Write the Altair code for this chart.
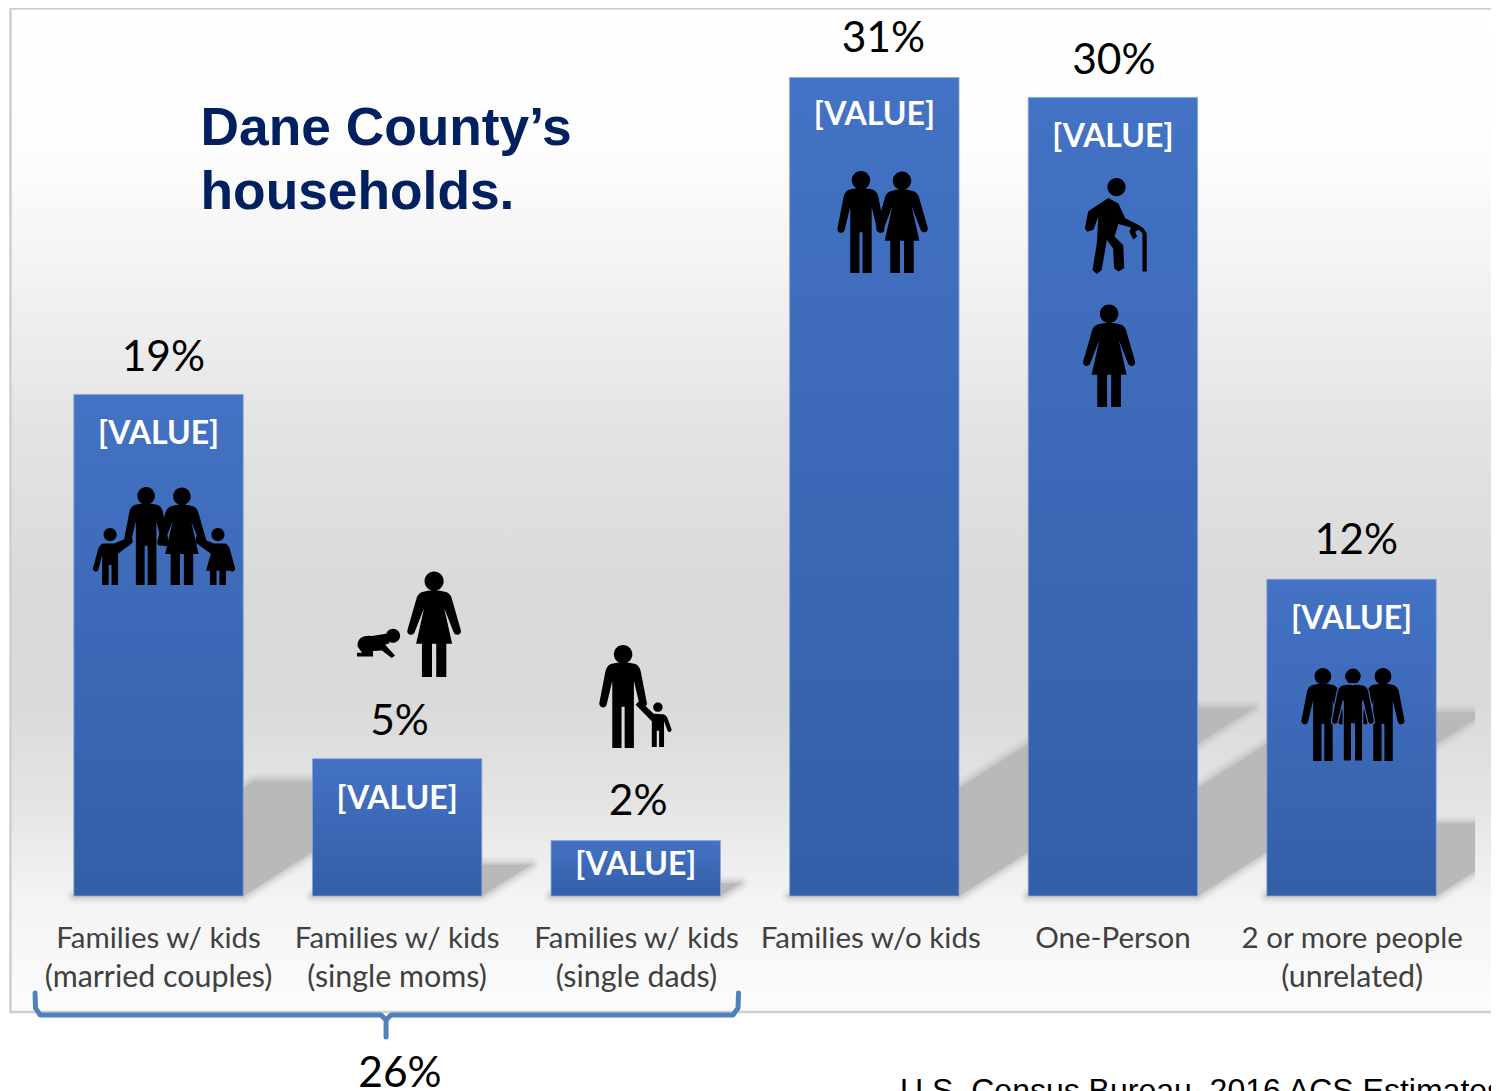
import altair as alt
import pandas as pd

# ---------- data ----------
slots = [0, 1, 2, 3, 4, 5]
shares = [19.0, 5.2, 2.1, 31.0, 30.25, 12.0]
share_labels = ["19%", "5%", "2%", "31%", "30%", "12%"]
share_label_slots = [0.02, 1.01, 2.01, 3.038, 4.004, 5.02]
share_label_pct = [19.0, 5.24, 2.21, 31.08, 30.25, 12.08]
value_labels = ["[VALUE]"] * 6
value_label_pct = [19.0, 5.2, 2.69, 31.11, 30.25, 12.0]

cat_line1 = ["Families w/ kids", "Families w/ kids", "Families w/ kids",
             "Families w/o kids", "One-Person", "2 or more people"]
cat_line2 = ["(married couples)", "(single moms)", "(single dads)", "", "", "(unrelated)"]
cat_slots = [0, 1, 2.003, 2.985, 4.0, 5.003]

title_lines = ["Dane County’s", "households."]
title_pct = [28.45, 26.02]
title_slot = 0.176

bracket_slot = [-.5176, -.5155, -.4966, .9325, .9535, .9535, .9535, .9744, 2.4078, 2.4287, 2.4308]
bracket_pct = [-3.674, -4.242, -4.508, -4.508, -4.697, -5.341, -4.697, -4.508, -4.508, -4.242, -3.674]

icon_glyph = ["man", "woman", "boy", "girl", "woman", "baby", "man", "kid",
              "man", "woman", "elder", "woman", "man", "man", "man"]
icon_slot = [-.052, .098, -.203, .249, 1.155, .922, 1.947, 2.093,
             2.944, 3.116, 4.013, 3.984, 4.880, 5.132, 5.006]
icon_pct = [13.64, 13.64, 12.86, 12.86, 10.30, 9.53, 7.56, 6.53,
            25.53, 25.53, 25.38, 20.47, 6.875, 6.875, 6.875]
icon_group = ["family", "family", "child", "child", "mom", "infant", "dad", "toddler",
              "couple", "couple", "senior", "single", "trio", "trio", "trio_front"]

# ---------- styles ----------
ICON_PX = {"family": 98, "child": 57, "mom": 106, "infant": 44, "dad": 103, "toddler": 47,
           "couple": 102, "senior": 96, "single": 103, "trio": 93, "trio_front": 93}

GLYPHS = {
    "man": ("M-.24 -.63 Q0 -.70 .24 -.63 Q.31 -.6 .34 -.5 L.46 .12 A.07 .07 0 0 1 .32 .16 "
            "L.21 -.3 L.21 1 L.03 1 L.03 .2 L-.03 .2 L-.03 1 L-.21 1 L-.21 -.3 L-.32 .16 "
            "A.07 .07 0 0 1 -.46 .12 L-.34 -.5 Q-.31 -.6 -.24 -.63Z "
            "M-.18 -.82 A.18 .18 0 1 1 .18 -.82 A.18 .18 0 1 1 -.18 -.82Z"),
    "woman": ("M-.24 -.6 Q0 -.68 .24 -.6 Q.32 -.56 .34 -.46 L.5 .1 A.07 .07 0 0 1 .37 .16 "
              "L.19 -.3 L.34 .37 L.23 .37 L.23 1 L.04 1 L.04 .37 L-.04 .37 L-.04 1 L-.23 1 "
              "L-.23 .37 L-.34 .37 L-.19 -.3 L-.37 .16 A.07 .07 0 0 1 -.5 .1 L-.34 -.46 "
              "Q-.32 -.56 -.24 -.6Z M-.18 -.81 A.18 .18 0 1 1 .18 -.81 A.18 .18 0 1 1 -.18 -.81Z"),
    "boy": ("M-.25 -.46 L.15 -.46 L.76 -.72 L.8 -.5 L.28 -.1 L.28 1 L.05 1 L.05 .3 L-.05 .3 "
            "L-.05 1 L-.28 1 L-.28 -.05 L-.42 .48 A.1 .1 0 0 1 -.6 .4 L-.42 -.25 "
            "Q-.37 -.42 -.25 -.46Z M-.23 -.77 A.23 .23 0 1 1 .23 -.77 A.23 .23 0 1 1 -.23 -.77Z"),
    "girl": ("M.25 -.46 L-.15 -.46 L-.76 -.72 L-.8 -.5 L-.25 -.1 L-.42 .5 L-.28 .5 L-.28 1 "
             "L-.05 1 L-.05 .5 L.05 .5 L.05 1 L.28 1 L.28 .5 L.42 .5 L.32 -.02 L.42 .48 "
             "A.1 .1 0 0 0 .6 .4 L.42 -.25 Q.37 -.42 .25 -.46Z "
             "M-.23 -.77 A.23 .23 0 1 1 .23 -.77 A.23 .23 0 1 1 -.23 -.77Z"),
    "kid": ("M.22 -.4 Q.36 -.38 .42 -.2 L.58 .25 A.09 .09 0 0 1 .42 .32 L.26 -.1 L.26 1 L.05 1 "
            "L.05 .3 L-.05 .3 L-.05 1 L-.26 1 L-.26 -.1 L-.95 -.8 L-.78 -.98 L-.18 -.42Z "
            "M-.2 -.7 A.2 .2 0 1 1 .2 -.7 A.2 .2 0 1 1 -.2 -.7Z"),
    "baby": ("M-.8 -.3 Q-.6 -.42 -.3 -.38 L.4 -.5 L.5 -.05 L.3 .02 L.75 .5 L.6 .62 L.15 .28 "
             "L-.25 .3 L-.25 .55 L-.98 .55 L-.98 .38 L-.75 .38 L-.95 .1 Q-.98 -.15 -.8 -.3Z "
             "M.34 -.39 A.32 .32 0 1 1 .98 -.39 A.32 .32 0 1 1 .34 -.39Z"),
    "elder": ("M-.54 -.33 L-.16 -.58 L.05 -.47 L.19 -.16 L.47 -.02 L.57 .05 L.64 .15 L.64 .95 "
              "L.55 .95 L.55 .15 L.47 .08 L.40 .12 L.44 .22 L.36 .28 L.28 .12 L.31 .03 L.05 -.04 "
              "L-.03 .22 L.15 .40 L.17 .88 L.05 .95 L-.04 .88 L-.06 .47 L-.19 .29 L-.30 .92 "
              "L-.40 1 L-.49 .92 L-.40 .36 L-.37 -.19 L-.47 .08 L-.60 .12 L-.65 .05 L-.58 -.30Z "
              "M-.18 -.81 A.19 .19 0 1 1 .2 -.81 A.19 .19 0 1 1 -.18 -.81Z"),
}

BODY_FONT = "Lato"
HALF_BAR = 0.355
SHADOW_GREY = "#b9b9b9"
TIP_FRACTION = 0.23
SHEAR = 0.1734

xs = alt.Scale(domain=[-0.63097, 5.5846], nice=False, zero=False)
ys = alt.Scale(domain=[-7.386, 33.636], nice=False, zero=False)
X = lambda f: alt.X(f, type="quantitative", scale=xs, axis=None)
Y = lambda f: alt.Y(f, type="quantitative", scale=ys, axis=None)

# ---------- tables ----------
bars = pd.DataFrame({"slot": slots, "share": shares, "value_pct": value_label_pct,
                     "value_label": value_labels, "label": share_labels,
                     "label_slot": share_label_slots, "label_pct": share_label_pct, "base": [0] * 6})
bars["left"] = bars.slot - HALF_BAR
bars["right"] = bars.slot + HALF_BAR

rows = []
for s, v in zip(slots, shares):
    xl, xr, t = s - HALF_BAR, s + HALF_BAR, TIP_FRACTION * v
    d = t * SHEAR
    for x in sorted({xl, xl + d, xr, xr + d}):
        rows.append({"bar": s, "x": x, "upper": min(t, (x - xl) / SHEAR),
                     "lower": max(0.0, (x - xr) / SHEAR)})
shadow = pd.DataFrame(rows)

frame = pd.DataFrame([{"x": -0.6205, "x2": 5.8, "y": 33.62, "y2": -4.394}])
cover = pd.DataFrame([{"x": 5.518, "x2": 5.8, "y": 33.62, "y2": -4.394}])

bg_gradient = alt.Gradient(
    gradient="linear", x1=0, x2=0, y1=0, y2=1,
    stops=[alt.GradientStop(offset=o, color=c) for o, c in [
        (0, "#ffffff"), (.14, "#fdfdfd"), (.25, "#f4f4f4"), (.37, "#e9e9e9"), (.41, "#e4e4e4"),
        (.59, "#d9d9d9"), (.69, "#dadada"), (.79, "#e4e4e4"), (.89, "#f4f4f4"), (1, "#fcfcfc")]])
bar_gradient = alt.Gradient(
    gradient="linear", x1=0, x2=0, y1=0, y2=1,
    stops=[alt.GradientStop(offset=0, color="#4472c4"),
           alt.GradientStop(offset=1, color="#335fa8")])

# ---------- layers ----------
bg = alt.Chart(frame).mark_rect(color=bg_gradient).encode(
    x=X("x"), x2="x2", y=Y("y"), y2="y2")
shadow_enc = dict(x=X("x"), y=Y("upper"), y2="lower", detail="bar:N")
soft_layers = [
    alt.Chart(shadow).mark_area(fillOpacity=0, stroke=SHADOW_GREY, strokeWidth=w,
                                strokeOpacity=a, strokeJoin="round").encode(**shadow_enc)
    for w, a in [(15, .12), (10, .18), (6, .25), (3, .3)]
]
sh_fill = alt.Chart(shadow).mark_area(fill=SHADOW_GREY).encode(**shadow_enc)
border = alt.Chart(frame).mark_rect(fillOpacity=0, stroke="#cfcfcf", strokeWidth=2.5).encode(
    x=X("x"), x2="x2", y=Y("y"), y2="y2")
bar_l = alt.Chart(bars).mark_rect(color=bar_gradient, stroke="#8aa4d6", strokeWidth=.8).encode(
    x=X("left"), x2="right", y=Y("share"), y2="base")
share_text = alt.Chart(bars).mark_text(font=BODY_FONT, fontSize=42.5, color="#000000", dy=-23,
                                       baseline="alphabetic", align="center").encode(
    x=X("label_slot"), y=Y("label_pct"), text="label:N")
value_text = alt.Chart(bars).mark_text(font=BODY_FONT, fontWeight="bold", fontSize=32, color="#ffffff",
                                       dy=50, baseline="alphabetic", align="center").encode(
    x=X("slot"), y=Y("value_pct"), text="value_label:N")

cats1 = pd.DataFrame({"slot": cat_slots, "text": cat_line1, "line": [-1.97] * 6})
cats2 = pd.DataFrame({"slot": cat_slots, "text": cat_line2, "line": [-3.45] * 6})
cat_text1 = alt.Chart(cats1).mark_text(font=BODY_FONT, fontSize=29.5, color="#404040",
                                       baseline="alphabetic", align="center").encode(
    x=X("slot"), y=Y("line"), text="text:N")
cat_text2 = alt.Chart(cats2).mark_text(font=BODY_FONT, fontSize=30.4, color="#404040",
                                       baseline="alphabetic", align="center").encode(
    x=X("slot"), y=Y("line"), text="text:N")

titles = pd.DataFrame({"slot": [title_slot] * 2, "pct": title_pct, "text": title_lines})
title_text = alt.Chart(titles).mark_text(font="Liberation Sans", fontWeight="bold", fontSize=53.3,
                                         color="#002060", align="left", baseline="alphabetic").encode(
    x=X("slot"), y=Y("pct"), text="text:N")

bracket = pd.DataFrame({"slot": bracket_slot, "pct": bracket_pct, "i": range(len(bracket_slot))})
bracket_l = alt.Chart(bracket).mark_line(color="#4f81bd", strokeWidth=5, strokeCap="round",
                                         strokeJoin="round").encode(
    x=X("slot"), y=Y("pct"), order="i:Q")
notes = pd.DataFrame({"slot": [1.012, 3.108], "pct": [-7.235, -7.77],
                      "text": ["26%", "U.S. Census Bureau, 2016 ACS Estimates"], "kind": ["a", "b"]})
note_a = alt.Chart(notes[notes.kind == "a"]).mark_text(font=BODY_FONT, fontSize=42.5, color="#000000",
                                                       baseline="alphabetic", align="center").encode(
    x=X("slot"), y=Y("pct"), text="text:N")
note_b = alt.Chart(notes[notes.kind == "b"]).mark_text(font="Liberation Sans", fontSize=32, color="#000000",
                                                       baseline="alphabetic", align="left").encode(
    x=X("slot"), y=Y("pct"), text="text:N")

icons = pd.DataFrame({"glyph": icon_glyph, "slot": icon_slot, "pct": icon_pct, "group": icon_group})
icons["area"] = icons.group.map(lambda g: ICON_PX[g] ** 2)
names = list(GLYPHS)
icon_enc = dict(x=X("slot"), y=Y("pct"),
                shape=alt.Shape("glyph:N", scale=alt.Scale(domain=names, range=[GLYPHS[n] for n in names]),
                                legend=None),
                size=alt.Size("area:Q", scale=None))
icon_l = alt.Chart(icons[icons.group != "trio_front"]).mark_point(
    filled=True, fill="#000000", opacity=1, strokeWidth=0).encode(**icon_enc)
icon_front = alt.Chart(icons[icons.group == "trio_front"]).mark_point(
    filled=True, fill="#000000", opacity=1, stroke="#3f6cb8", strokeWidth=1.2).encode(**icon_enc)

cover_fill = alt.Chart(cover).mark_rect(color=bg_gradient).encode(
    x=X("x"), x2="x2", y=Y("y"), y2="y2")

chart = alt.layer(bg, *soft_layers, sh_fill, cover_fill, border, bar_l, share_text, value_text,
                  cat_text1, cat_text2, title_text, bracket_l, note_a, note_b, icon_l, icon_front).properties(
    width=1483, height=1083, padding=0, autosize=alt.AutoSizeParams(type="none"), background="#ffffff"
).configure_view(strokeWidth=0)

chart.save("out.html", embed_options={"renderer": "svg", "actions": False})
